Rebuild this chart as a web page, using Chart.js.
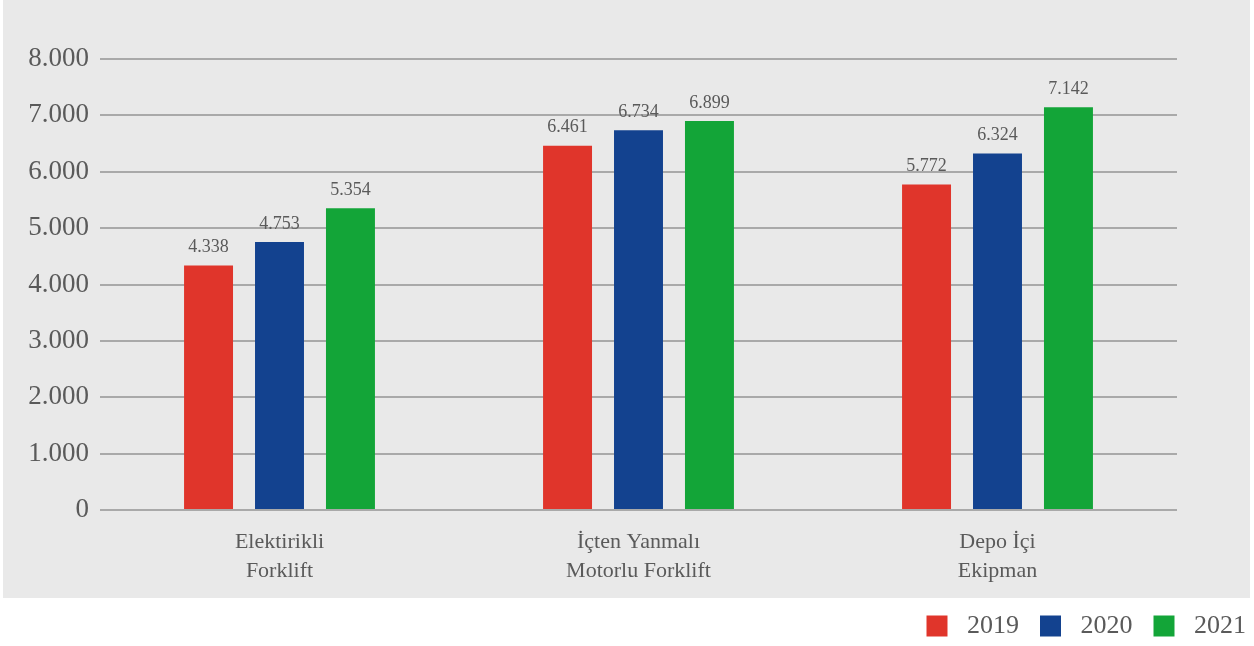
<!DOCTYPE html>
<html>
  <head>
    <meta charset="utf-8">
    <title>Forklift</title>
    <style>
      html, body { margin: 0; padding: 0; background: #fff; }
      canvas { display: block; }
    </style>
  </head>
  <body>
    <canvas id="chart1" width="1254" height="646"></canvas>

    <script src="https://cdn.jsdelivr.net/npm/chart.js@4/dist/chart.umd.min.js"></script>
    <script>
      // Datos //
      const categorias = [['Elektirikli', 'Forklift'], ['İçten Yanmalı', 'Motorlu Forklift'], ['Depo İçi', 'Ekipman']]
      const anios = ['2019', '2020', '2021']
      const valores2019 = [4338, 6461, 5772]
      const valores2020 = [4753, 6734, 6324]
      const valores2021 = [5354, 6899, 7142]
      const yMin = 0
      const yMax = 8000
      const yPaso = 1000

      const colores = ['#e0352b', '#13428f', '#13a538']
      const gris = '#5a5a5a'
      const fuente = "'Liberation Serif', 'DejaVu Serif', serif"

      // fondo gris detras del grafico
      const fondo = {
        id: 'fondo',
        beforeDraw(chart) {
          const c = chart.ctx
          c.save()
          c.fillStyle = '#e9e9e9'
          c.fillRect(3, 0, 1247, 598)
          c.restore()
        }
      }

      // etiquetas sobre las barras
      const etiquetas = {
        id: 'etiquetas',
        afterDatasetsDraw(chart) {
          const c = chart.ctx
          c.save()
          c.font = '18px ' + fuente
          c.fillStyle = gris
          c.textAlign = 'center'
          c.textBaseline = 'bottom'
          chart.data.datasets.forEach((ds, i) => {
            chart.getDatasetMeta(i).data.forEach((bar, j) => {
              c.fillText(ds.data[j].toLocaleString('tr-TR'), bar.x, bar.y - 9)
            })
          })
          c.restore()
        }
      }

      var ctx = document.getElementById('chart1').getContext('2d')
      var chart1 = new Chart(ctx, {
        type: 'bar',
        data: {
          labels: categorias,
          datasets: [
            { label: anios[0], data: valores2019, backgroundColor: colores[0] },
            { label: anios[1], data: valores2020, backgroundColor: colores[1] },
            { label: anios[2], data: valores2021, backgroundColor: colores[2] }
          ]
        },
        options: {
          responsive: false,
          animation: false,
          devicePixelRatio: 1,
          locale: 'tr-TR',
          categoryPercentage: 0.593,
          barPercentage: 0.69,
          layout: { padding: { top: 59, left: 0, right: 0, bottom: -3 } },
          plugins: {
            tooltip: { enabled: false },
            legend: {
              position: 'bottom',
              align: 'end',
              labels: {
                boxWidth: 21,
                boxHeight: 21,
                padding: 8,
                color: gris,
                font: { family: fuente, size: 26 },
                generateLabels(chart) {
                  const items = Chart.defaults.plugins.legend.labels.generateLabels(chart)
                  items.forEach((it, i) => {
                    it.text = ' ' + it.text + (i < items.length - 1 ? '  ' : '')
                    it.lineWidth = 0
                  })
                  return items
                }
              }
            }
          },
          scales: {
            x: {
              grid: { display: false },
              border: { display: false },
              ticks: {
                color: gris,
                padding: 10,
                font: { family: fuente, size: 22, lineHeight: 1.32 },
                maxRotation: 0,
                autoSkip: false
              },
              afterFit: s => { s.height = 95 }
            },
            y: {
              min: yMin,
              max: yMax,
              border: { display: false },
              grid: { color: '#a9a9a9', lineWidth: 2, drawTicks: false },
              ticks: {
                stepSize: yPaso,
                color: gris,
                padding: 11,
                font: { family: fuente, size: 27 }
              },
              afterFit: s => { s.width = 100 }
            },
            y2: {
              position: 'right',
              grid: { display: false },
              border: { display: false },
              ticks: { display: false },
              afterFit: s => { s.width = 77 }
            }
          }
        },
        plugins: [fondo, etiquetas]
      })
    </script>
  </body>
</html>
